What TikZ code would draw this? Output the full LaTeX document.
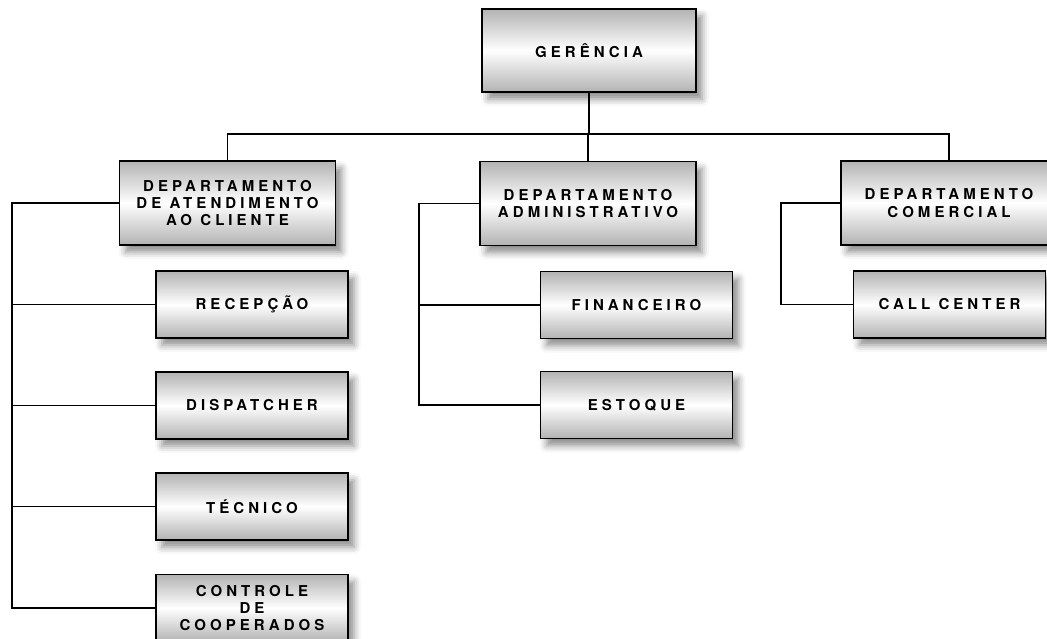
\documentclass[tikz,border=0pt]{standalone}
\usepackage{fontspec}
\newfontfamily\orgfont[LetterSpace=27]{TeX Gyre Heros}
\usetikzlibrary{shadows.blur}

\begin{document}
\begin{tikzpicture}[x=1pt,y=-1pt,
  caixa/.style={draw=black, line width=1.5pt, inner sep=0pt, align=center,
    top color=gray!60, bottom color=gray!60, middle color=white,
    blur shadow={shadow xshift=6pt, shadow yshift=-7pt, shadow blur radius=7pt, shadow opacity=45},
    font=\orgfont\bfseries\fontsize{15}{17.2}\selectfont},
  grande/.style={caixa, minimum width=216pt, minimum height=84pt},
  pequena/.style={caixa, minimum width=192pt, minimum height=67pt},
  linha/.style={line width=1.6pt}]
\color{black}
\useasboundingbox (0,0) rectangle (1047,638);
\clip (0,0) rectangle (1047,638);

% topo
\node[grande, minimum width=214pt, minimum height=83pt] (gerencia) at (589,50.5) {GERÊNCIA};

% departamentos
\node[grande] (atend) at (227.5,203) {DEPARTAMENTO\\DE ATENDIMENTO\\AO CLIENTE};
\node[grande] (admin) at (588,203.5) {DEPARTAMENTO\\ADMINISTRATIVO};
\node[grande] (comercial) at (949,203) {DEPARTAMENTO\\COMERCIAL};

% setores
\node[pequena] (recepcao) at (252,304.5) {RECEPÇÃO};
\node[pequena] (dispatcher) at (252,405.5) {DISPATCHER};
\node[pequena] (tecnico) at (252,506.5) {TÉCNICO};
\node[pequena] (controle) at (252,608) {CONTROLE\\DE\\COOPERADOS};
\node[pequena] (financeiro) at (636.5,305) {FINANCEIRO};
\node[pequena] (estoque) at (636.5,405) {ESTOQUE};
\node[pequena] (callcenter) at (949.5,304.5) {CALL CENTER};

\coordinate (barra) at (0,134);
\coordinate (esq) at (12,0);
\coordinate (meio) at (419,0);
\coordinate (dir) at (781,0);

\draw[linha] (gerencia.south) -- (gerencia.south |- barra);
\draw[linha] (atend.north) |- (gerencia.south |- barra) -| (comercial.north);
\draw[linha] (admin.north) -- (admin.north |- barra);

\draw[linha] (atend.west) -| (esq |- controle.west) -- (controle.west);
\foreach \s in {recepcao,dispatcher,tecnico}
  \draw[linha] (\s.west) -- (esq |- \s.west);

\draw[linha] (admin.west) -| (meio |- estoque.west) -- (estoque.west);
\draw[linha] (financeiro.west) -- (meio |- financeiro.west);

\draw[linha] (comercial.west) -| (dir |- callcenter.west) -- (callcenter.west);
\end{tikzpicture}
\end{document}
